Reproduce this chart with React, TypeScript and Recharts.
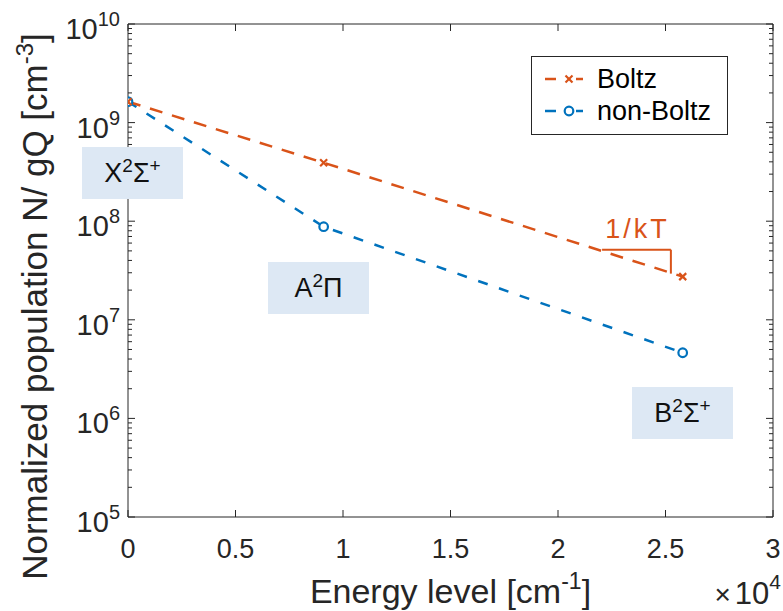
import React from 'react';
import { LineChart, Line, XAxis, YAxis, ReferenceLine, Legend } from 'recharts';

// ---------- data ----------
const energyLevels = [0, 9100, 25800];
const boltzValues = [1.63e9, 3.92e8, 2.74e7];
const nonBoltzValues = [1.63e9, 8.79e7, 4.63e6];
const xTickValues = [0, 5000, 10000, 15000, 20000, 25000, 30000];
const xTickLabels = ['0', '0.5', '1', '1.5', '2', '2.5', '3'];
const yDecadeExponents = [5, 6, 7, 8, 9, 10];
const seriesNames = ['Boltz', 'non-Boltz'];
const slopeX = [22050, 25250];
const slopeY = [5.14e7, 2.94e7];
const stateLabels = ['X', 'A', 'B'];

// ---------- styles ----------
const AXIS = '#262626';
const ORANGE = '#D95319';
const BLUE = '#0072BD';
const BOX_FILL = '#dde8f4';
const FONT = '"Liberation Sans", Arial, Helvetica, sans-serif';

const data = energyLevels.map((e, i) => ({ e, boltz: boltzValues[i], nonBoltz: nonBoltzValues[i] }));

const yTicks: number[] = [];
yDecadeExponents.forEach((p, idx) => {
  if (idx === yDecadeExponents.length - 1) {
    yTicks.push(Math.pow(10, p));
  } else {
    for (let m = 1; m <= 9; m++) yTicks.push(m * Math.pow(10, p));
  }
});
const yDomain = [Math.pow(10, yDecadeExponents[0]), Math.pow(10, yDecadeExponents[yDecadeExponents.length - 1])];

const isMajor = (v: number) => {
  const l = Math.log10(v);
  return Math.abs(l - Math.round(l)) < 1e-9;
};

const BottomTick = (props: any) => {
  const { x, y, payload } = props;
  const i = xTickValues.indexOf(payload.value);
  return (
    <g>
      <line x1={x} y1={y} x2={x} y2={y - 7} stroke={AXIS} strokeWidth={1} />
      <text x={x} y={y + 41} textAnchor="middle" fontSize={27} fill={AXIS} fontFamily={FONT}>
        {xTickLabels[i]}
      </text>
    </g>
  );
};

const TopTick = (props: any) => {
  const { x, y } = props;
  return <line x1={x} y1={y} x2={x} y2={y + 7} stroke={AXIS} strokeWidth={1} />;
};

const LeftTick = (props: any) => {
  const { x, y, payload } = props;
  const major = isMajor(payload.value);
  const exp = Math.round(Math.log10(payload.value));
  return (
    <g>
      <line x1={x} y1={y} x2={x + (major ? 7 : 4)} y2={y} stroke={AXIS} strokeWidth={1} />
      {major && (
        <text x={x - 8} y={y + 15} textAnchor="end" fill={AXIS} fontFamily={FONT}>
          <tspan fontSize={29}>10</tspan>
          <tspan fontSize={20} dy={-13}>{String(exp)}</tspan>
        </text>
      )}
    </g>
  );
};

const RightTick = (props: any) => {
  const { x, y, payload } = props;
  const major = isMajor(payload.value);
  return <line x1={x} y1={y} x2={x - (major ? 7 : 4)} y2={y} stroke={AXIS} strokeWidth={1} />;
};

const CrossDot = (props: any) => {
  const { cx, cy, index } = props;
  const s = 3.5;
  return (
    <g key={`cross-${index}`}>
      <line x1={cx - s} y1={cy - s} x2={cx + s} y2={cy + s} stroke={ORANGE} strokeWidth={2.2} />
      <line x1={cx - s} y1={cy + s} x2={cx + s} y2={cy - s} stroke={ORANGE} strokeWidth={2.2} />
    </g>
  );
};

const CircleDot = (props: any) => {
  const { cx, cy, index } = props;
  return <circle key={`circ-${index}`} cx={cx} cy={cy} r={4.3} fill="#fff" stroke={BLUE} strokeWidth={2.2} />;
};

const YLabel = (props: any) => {
  const vb = props.viewBox || { x: 0, y: 24, width: 128, height: 493 };
  const cx = vb.x + 47;
  const cy = vb.y + vb.height / 2 + 36;
  return (
    <text
      x={cx}
      y={cy}
      transform={`rotate(-90 ${cx} ${cy})`}
      textAnchor="middle"
      fontSize={35}
      fill={AXIS}
      fontFamily={FONT}
    >
      Normalized population N/ gQ [cm
      <tspan fontSize={24} dy={-14}>-3</tspan>
      <tspan dy={14}>]</tspan>
    </text>
  );
};

const XLabel = (props: any) => {
  const vb = props.viewBox || { x: 128, y: 517, width: 645, height: 94 };
  const cx = vb.x + vb.width / 2;
  const by = vb.y + 86;
  return (
    <g>
      <text x={cx} y={by} textAnchor="middle" fontSize={34} fill={AXIS} fontFamily={FONT}>
        Energy level [cm
        <tspan fontSize={23} dy={-14}>-1</tspan>
        <tspan dy={14}>]</tspan>
      </text>
      <text x={vb.x + vb.width + 8} y={vb.y + 87} textAnchor="end" fill={AXIS} fontFamily={FONT}>
        <tspan fontSize={28}>×</tspan>
        <tspan fontSize={31} dx={4}>10</tspan>
        <tspan fontSize={21} dy={-15}>4</tspan>
      </text>
    </g>
  );
};

const SlopeLabel = (props: any) => {
  const vb = props.viewBox;
  if (!vb) return null;
  return (
    <text
      x={vb.x + vb.width / 2 + 1}
      y={vb.y - 12}
      textAnchor="middle"
      fontSize={27}
      fill={ORANGE}
      fontFamily={FONT}
      letterSpacing={3}
    >
      1/kT
    </text>
  );
};

const LegendBox = () => {
  const rows = [
    { name: seriesNames[0], color: ORANGE, kind: 'x' },
    { name: seriesNames[1], color: BLUE, kind: 'o' },
  ];
  return (
    <svg width={197} height={79} style={{ display: 'block' }}>
      <rect x={0.5} y={0.5} width={196} height={78} fill="#fff" stroke={AXIS} strokeWidth={1} />
      {rows.map((r, i) => {
        const cy = 23 + i * 32;
        return (
          <g key={r.name}>
            <line x1={14} y1={cy} x2={25} y2={cy} stroke={r.color} strokeWidth={2.5} />
            <line x1={45} y1={cy} x2={52} y2={cy} stroke={r.color} strokeWidth={2.5} />
            {r.kind === 'x' ? (
              <g>
                <line x1={34.5} y1={cy - 3.5} x2={41.5} y2={cy + 3.5} stroke={r.color} strokeWidth={2.2} />
                <line x1={34.5} y1={cy + 3.5} x2={41.5} y2={cy - 3.5} stroke={r.color} strokeWidth={2.2} />
              </g>
            ) : (
              <circle cx={38} cy={cy} r={4.3} fill="#fff" stroke={r.color} strokeWidth={2.2} />
            )}
            <text x={66} y={cy + 9} fontSize={27} fill="#000" fontFamily={FONT}>
              {r.name}
            </text>
          </g>
        );
      })}
    </svg>
  );
};

const boxStyle = (left: number, top: number): React.CSSProperties => ({
  position: 'absolute',
  left,
  top,
  width: 101,
  height: 52,
  background: BOX_FILL,
  display: 'flex',
  alignItems: 'center',
  justifyContent: 'center',
  fontFamily: FONT,
  fontSize: 27,
  color: '#111',
  lineHeight: 1,
});
const sup: React.CSSProperties = { fontSize: 19, position: 'relative', top: -10 };

export default function App() {
  return (
    <div style={{ position: 'absolute', left: 0, top: 0, width: 783, height: 611, background: '#fff' }}>
      <LineChart width={783} height={611} data={data} margin={{ top: 0, right: 0, bottom: 0, left: 0 }}>
        <XAxis
          dataKey="e"
          type="number"
          domain={[xTickValues[0], xTickValues[xTickValues.length - 1]]}
          ticks={xTickValues}
          interval={0}
          allowDataOverflow
          height={94}
          tickLine={false}
          tickSize={0}
          tickMargin={0}
          tick={<BottomTick />}
          axisLine={{ stroke: AXIS, strokeWidth: 1 }}
          label={{ content: <XLabel /> }}
        />
        <XAxis
          xAxisId="top"
          orientation="top"
          dataKey="e"
          type="number"
          domain={[xTickValues[0], xTickValues[xTickValues.length - 1]]}
          ticks={xTickValues}
          interval={0}
          allowDataOverflow
          height={24}
          tickLine={false}
          tickSize={0}
          tickMargin={0}
          tick={<TopTick />}
          axisLine={{ stroke: AXIS, strokeWidth: 1 }}
        />
        <YAxis
          type="number"
          scale="log"
          domain={yDomain}
          ticks={yTicks}
          interval={0}
          allowDataOverflow
          width={128}
          tickLine={false}
          tickSize={0}
          tickMargin={0}
          tick={<LeftTick />}
          axisLine={{ stroke: AXIS, strokeWidth: 1 }}
          label={{ content: <YLabel /> }}
        />
        <YAxis
          yAxisId="r"
          orientation="right"
          type="number"
          scale="log"
          domain={yDomain}
          ticks={yTicks}
          interval={0}
          allowDataOverflow
          width={10}
          tickLine={false}
          tickSize={0}
          tickMargin={0}
          tick={<RightTick />}
          axisLine={{ stroke: AXIS, strokeWidth: 1 }}
        />
        <Legend
          layout="horizontal"
          verticalAlign="middle"
          align="center"
          wrapperStyle={{ position: 'absolute', left: 531, top: 56, width: 197, height: 79, margin: 0, padding: 0 }}
          content={<LegendBox />}
        />
        <Line
          dataKey="nonBoltz"
          name={seriesNames[1]}
          type="linear"
          stroke={BLUE}
          strokeWidth={2.5}
          strokeDasharray="10 12"
          dot={CircleDot}
          activeDot={false}
          isAnimationActive={false}
        />
        <Line
          dataKey="boltz"
          name={seriesNames[0]}
          type="linear"
          stroke={ORANGE}
          strokeWidth={2.5}
          strokeDasharray="13 10"
          dot={CrossDot}
          activeDot={false}
          isAnimationActive={false}
        />
        <ReferenceLine
          segment={[{ x: slopeX[0], y: slopeY[0] }, { x: slopeX[1], y: slopeY[0] }]}
          stroke={ORANGE}
          strokeWidth={2}
          label={{ content: <SlopeLabel /> }}
        />
        <ReferenceLine
          segment={[{ x: slopeX[1], y: slopeY[0] }, { x: slopeX[1], y: slopeY[1] }]}
          stroke={ORANGE}
          strokeWidth={2}
        />
      </LineChart>
      <div style={boxStyle(82, 147)}>
        <span>{stateLabels[0]}<span style={sup}>2</span>Σ<span style={sup}>+</span></span>
      </div>
      <div style={boxStyle(268, 262)}>
        <span>{stateLabels[1]}<span style={sup}>2</span>Π</span>
      </div>
      <div style={boxStyle(632, 387)}>
        <span>{stateLabels[2]}<span style={sup}>2</span>Σ<span style={sup}>+</span></span>
      </div>
    </div>
  );
}
